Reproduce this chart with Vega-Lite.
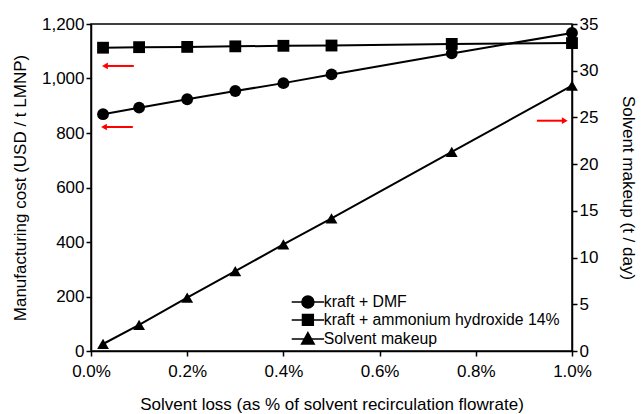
{
  "$schema": "https://vega.github.io/schema/vega-lite/v6.json",
  "width": 481,
  "height": 327,
  "autosize": "none",
  "padding": {"left": 91, "top": 24, "right": 70, "bottom": 63},
  "background": "white",
  "config": {
    "font": "Liberation Sans",
    "view": {"stroke": "black", "strokeWidth": 1.5},
    "axis": {
      "grid": false,
      "domainColor": "black",
      "domainWidth": 1.5,
      "tickColor": "black",
      "tickWidth": 1.5,
      "tickSize": 5,
      "labelFlush": false,
      "labelOverlap": false,
      "labelFont": "Liberation Sans",
      "labelFontSize": 17,
      "labelColor": "black",
      "titleFont": "Liberation Sans",
      "titleFontSize": 17,
      "titleFontWeight": "normal",
      "titleColor": "black"
    },
    "legend": {
      "labelFont": "Liberation Sans",
      "labelFontSize": 15.8,
      "labelColor": "black",
      "labelLimit": 0
    }
  },
  "datasets": {
    "series": [
      {"loss": 0.00025, "series": "kraft + DMF", "value": 869},
      {"loss": 0.001, "series": "kraft + DMF", "value": 893},
      {"loss": 0.002, "series": "kraft + DMF", "value": 924},
      {"loss": 0.003, "series": "kraft + DMF", "value": 954},
      {"loss": 0.004, "series": "kraft + DMF", "value": 983},
      {"loss": 0.005, "series": "kraft + DMF", "value": 1015},
      {"loss": 0.0075, "series": "kraft + DMF", "value": 1092},
      {"loss": 0.01, "series": "kraft + DMF", "value": 1167},
      {"loss": 0.00025, "series": "kraft + ammonium hydroxide 14%", "value": 1113},
      {"loss": 0.001, "series": "kraft + ammonium hydroxide 14%", "value": 1115},
      {"loss": 0.002, "series": "kraft + ammonium hydroxide 14%", "value": 1116},
      {"loss": 0.003, "series": "kraft + ammonium hydroxide 14%", "value": 1118},
      {"loss": 0.004, "series": "kraft + ammonium hydroxide 14%", "value": 1120},
      {"loss": 0.005, "series": "kraft + ammonium hydroxide 14%", "value": 1121},
      {"loss": 0.0075, "series": "kraft + ammonium hydroxide 14%", "value": 1127},
      {"loss": 0.01, "series": "kraft + ammonium hydroxide 14%", "value": 1130},
      {"loss": 0.00025, "series": "Solvent makeup", "value": 0.75},
      {"loss": 0.001, "series": "Solvent makeup", "value": 2.8},
      {"loss": 0.002, "series": "Solvent makeup", "value": 5.7},
      {"loss": 0.003, "series": "Solvent makeup", "value": 8.55},
      {"loss": 0.004, "series": "Solvent makeup", "value": 11.4},
      {"loss": 0.005, "series": "Solvent makeup", "value": 14.2},
      {"loss": 0.0075, "series": "Solvent makeup", "value": 21.3},
      {"loss": 0.01, "series": "Solvent makeup", "value": 28.4}
    ],
    "arrows": [
      {"side": "left", "from": 0.00089, "to": 0.00029, "level": 1046},
      {"side": "left", "from": 0.00087, "to": 0.00027, "level": 822},
      {"side": "right", "from": 0.00927, "to": 0.00985, "level": 24.65}
    ]
  },
  "layer": [
    {
      "layer": [
        {
          "data": {"name": "series"},
          "transform": [{"filter": "datum.series !== 'Solvent makeup'"}],
          "mark": {"type": "line", "color": "black", "strokeWidth": 2},
          "encoding": {
            "x": {"field": "loss", "type": "quantitative", "scale": {"domain": [0, 0.01]},
              "axis": {"format": ".1%", "values": [0, 0.002, 0.004, 0.006, 0.008, 0.01], "title": "Solvent loss (as % of solvent recirculation flowrate)", "labelPadding": 7, "titlePadding": 17}},
            "y": {"field": "value", "type": "quantitative", "scale": {"domain": [0, 1200]},
              "axis": {"orient": "left", "format": ",d", "values": [0, 200, 400, 600, 800, 1000, 1200], "title": "Manufacturing cost (USD / t LMNP)", "titlePadding": 12}},
            "detail": {"field": "series"}
          }
        },
        {
          "data": {"name": "series"},
          "transform": [{"filter": "datum.series === 'kraft + DMF'"}],
          "mark": {"type": "point", "filled": true, "color": "black", "opacity": 1, "size": 140, "shape": "circle"},
          "encoding": {
            "x": {"field": "loss", "type": "quantitative"},
            "y": {"field": "value", "type": "quantitative"}
          }
        },
        {
          "data": {"name": "series"},
          "transform": [{"filter": "datum.series === 'kraft + ammonium hydroxide 14%'"}],
          "mark": {"type": "point", "filled": true, "color": "black", "opacity": 1, "size": 140, "shape": "square"},
          "encoding": {
            "x": {"field": "loss", "type": "quantitative"},
            "y": {"field": "value", "type": "quantitative"}
          }
        },
        {
          "data": {"name": "series"},
          "transform": [{"filter": "datum.series !== 'Solvent makeup'"}],
          "mark": {"type": "point", "fill": "black", "stroke": "black", "strokeWidth": 1.5, "opacity": 1, "size": 0},
          "encoding": {
            "x": {"field": "loss", "type": "quantitative"},
            "y": {"field": "value", "type": "quantitative"},
            "shape": {
              "field": "series", "type": "nominal",
              "scale": {
                "domain": ["kraft + DMF", "kraft + ammonium hydroxide 14%", "Solvent makeup"],
                "range": [
                  "M-2.7,0L2.7,0M-1,0A1,1,0,1,0,1,0A1,1,0,1,0,-1,0Z",
                  "M-2.7,0L2.7,0M-0.9,-0.9L0.9,-0.9L0.9,0.9L-0.9,0.9Z",
                  "M-2.7,0L2.7,0M0,-1.05L1.05,0.85L-1.05,0.85Z"
                ]
              },
              "legend": {
                "orient": "none", "legendX": 209, "legendY": 270, "title": null, "padding": 0,
                "symbolSize": 144, "labelOffset": 8, "rowPadding": 0, "labelLimit": 0
              }
            }
          }
        },
        {
          "data": {"name": "arrows"},
          "transform": [{"filter": "datum.side === 'left'"}],
          "mark": {"type": "rule", "color": "red", "strokeWidth": 2},
          "encoding": {
            "x": {"field": "from", "type": "quantitative"},
            "x2": {"field": "to"},
            "y": {"field": "level", "type": "quantitative"}
          }
        },
        {
          "data": {"name": "arrows"},
          "transform": [{"filter": "datum.side === 'left'"}],
          "mark": {"type": "point", "filled": true, "color": "red", "opacity": 1, "size": 45, "shape": "triangle-left"},
          "encoding": {
            "x": {"field": "to", "type": "quantitative"},
            "y": {"field": "level", "type": "quantitative"}
          }
        }
      ]
    },
    {
      "layer": [
        {
          "data": {"name": "series"},
          "transform": [{"filter": "datum.series === 'Solvent makeup'"}],
          "mark": {"type": "line", "color": "black", "strokeWidth": 2},
          "encoding": {
            "x": {"field": "loss", "type": "quantitative", "scale": {"domain": [0, 0.01]}},
            "y": {"field": "value", "type": "quantitative", "scale": {"domain": [0, 35]},
              "axis": {"orient": "right", "values": [0, 5, 10, 15, 20, 25, 30, 35], "title": "Solvent makeup (t / day)", "titlePadding": 21}}
          }
        },
        {
          "data": {"name": "series"},
          "transform": [{"filter": "datum.series === 'Solvent makeup'"}],
          "mark": {"type": "point", "filled": true, "color": "black", "opacity": 1, "size": 140, "shape": "triangle-up"},
          "encoding": {
            "x": {"field": "loss", "type": "quantitative"},
            "y": {"field": "value", "type": "quantitative"}
          }
        },
        {
          "data": {"name": "arrows"},
          "transform": [{"filter": "datum.side === 'right'"}],
          "mark": {"type": "rule", "color": "red", "strokeWidth": 2},
          "encoding": {
            "x": {"field": "from", "type": "quantitative"},
            "x2": {"field": "to"},
            "y": {"field": "level", "type": "quantitative"}
          }
        },
        {
          "data": {"name": "arrows"},
          "transform": [{"filter": "datum.side === 'right'"}],
          "mark": {"type": "point", "filled": true, "color": "red", "opacity": 1, "size": 45, "shape": "triangle-right"},
          "encoding": {
            "x": {"field": "to", "type": "quantitative"},
            "y": {"field": "level", "type": "quantitative"}
          }
        }
      ]
    }
  ],
  "resolve": {"scale": {"y": "independent"}}
}
